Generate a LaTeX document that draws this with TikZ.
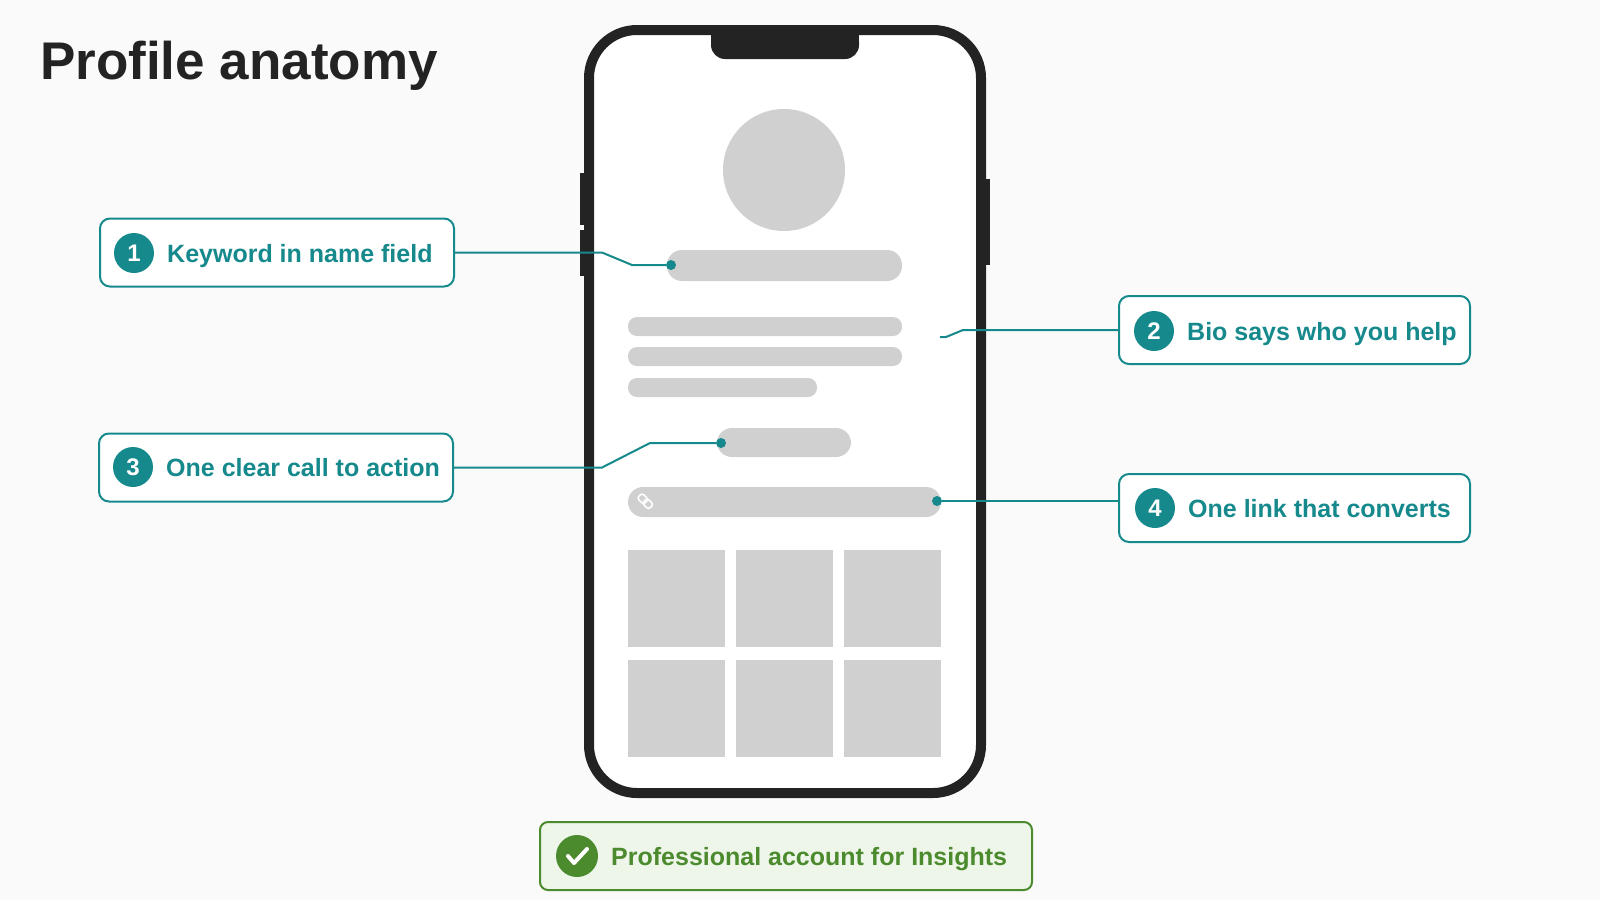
\documentclass[tikz,border=0pt]{standalone}
\usepackage{fontspec}
\setmainfont{Liberation Sans}
\usetikzlibrary{positioning,calc}
\definecolor{teal1}{HTML}{16898C}
\definecolor{phone}{HTML}{232323}
\definecolor{mock}{HTML}{D0D0D0}
\definecolor{okgreen}{HTML}{4C8A2E}
\definecolor{okfill}{HTML}{EEF6EA}
\tikzset{
  callout/.style={draw=teal1, line width=2pt, rounded corners=10pt, fill=white,
                  minimum width=354pt, minimum height=68pt},
  num/.style={circle, fill=teal1, text=white, inner sep=0pt, minimum size=40pt,
              font=\fontsize{24}{24}\selectfont\bfseries},
  label/.style={text=teal1, font=\fontsize{25}{25}\selectfont\bfseries, anchor=base west, inner sep=0pt},
  bar/.style={fill=mock, rounded corners=15pt},
  lead/.style={teal1, line width=2pt},
  dot/.style={circle, fill=teal1, inner sep=0pt, minimum size=10pt}
}
\begin{document}
\begin{tikzpicture}[x=1pt,y=-1pt]
\fill[white!98!black] (0,0) rectangle (1600,900);
\useasboundingbox (0,0) rectangle (1600,900);

% title
\node[anchor=base west, inner sep=0pt, text=phone,
      font=\fontsize{53}{53}\selectfont\bfseries] (title) at (40,79) {Profile anatomy};

% PHONE
\fill[phone] (580,173) rectangle (588,225);
\fill[phone] (580,230) rectangle (588,276);
\fill[phone] (982,179) rectangle (990,265);
\draw[phone, line width=10pt, fill=white, rounded corners=48pt] (589,30) rectangle (981,793);
\fill[phone, rounded corners=14pt] (711,28) -- (711,59) -- (859,59) -- (859,28) -- cycle;
\fill[phone] (711,26) rectangle (859,45);

% screen content
\fill[mock] (784,170) circle (61);
\node[bar, minimum width=235pt, minimum height=31pt, inner sep=0pt] (name) at (784.5,265.5) {};
\fill[mock, rounded corners=9pt] (628,317) rectangle (902,336);
\fill[mock, rounded corners=9pt] (628,347) rectangle (902,366);
\fill[mock, rounded corners=9pt] (628,378) rectangle (817,397);
\node[bar, minimum width=134pt, minimum height=29pt, inner sep=0pt] (cta) at (784,442.5) {};
\node[bar, minimum width=313pt, minimum height=30pt, inner sep=0pt] (link) at (784.5,502) {};
\begin{scope}[shift={(646,502)}, rotate=-45, white, line width=1.6pt]
  \draw[rounded corners=2.5pt] (-9,-3.5) rectangle (0,3.5);
  \draw[rounded corners=2.5pt] (-2,-3.5) rectangle (7,3.5);
\end{scope}
\foreach \i in {0,1,2}
  \foreach \j in {0,1}
    \fill[mock] ({628+\i*108},{550+\j*110}) rectangle ++(97,97);

% CALLOUTS
\node[callout] (box1) at (277,252.5) {};
\node[num] (n1) at (134,253) {1};
\node[label] (t1) at ($(n1.center)+(33,9)$) {Keyword in name field};

\node[callout] (box3) at (276,467.5) {};
\node[num] (n3) at (133,467) {3};
\node[label] (t3) at ($(n3.center)+(33,9)$) {One clear call to action};

\node[callout, minimum width=351pt] (box2) at (1294.5,330) {};
\node[num] (n2) at (1154,331) {2};
\node[label] (t2) at ($(n2.center)+(33,9)$) {Bio says who you help};

\node[callout, minimum width=351pt] (box4) at (1294.5,508) {};
\node[num] (n4) at (1155,508) {4};
\node[label] (t4) at ($(n4.center)+(33,9)$) {One link that converts};

% leaders
\node[dot] (d1) at (671,265) {};
\node[dot] (d3) at (721,443) {};
\node[dot] (d4) at (937,501) {};
\coordinate (e2) at (940,337);
\draw[lead] (box1.east) -- (602,252.5) -- (632,265) -- (d1);
\draw[lead] (box3.east) -- (602,467.5) -- (650,443) -- (d3);
\draw[lead] (box2.west) -- (963,330) -- (946,337) -- (e2);
\draw[lead] (d4) -- (d4 -| box4.west);

% bottom badge
\node[draw=okgreen, line width=2pt, fill=okfill, rounded corners=8pt,
      minimum width=492pt, minimum height=68pt] (pro) at (786,856) {};
\node[circle, fill=okgreen, minimum size=42pt, inner sep=0pt] (chk) at (577,856) {};
\draw[white, line width=4pt, line cap=round, line join=round]
  ($(chk)+(-9,0)$) -- ($(chk)+(-3,7)$) -- ($(chk)+(10,-7)$);
\node[anchor=base west, inner sep=0pt, text=okgreen, font=\fontsize{25}{25}\selectfont\bfseries]
  (prot) at ($(chk.center)+(34,9)$) {Professional account for Insights};
\end{tikzpicture}
\end{document}
